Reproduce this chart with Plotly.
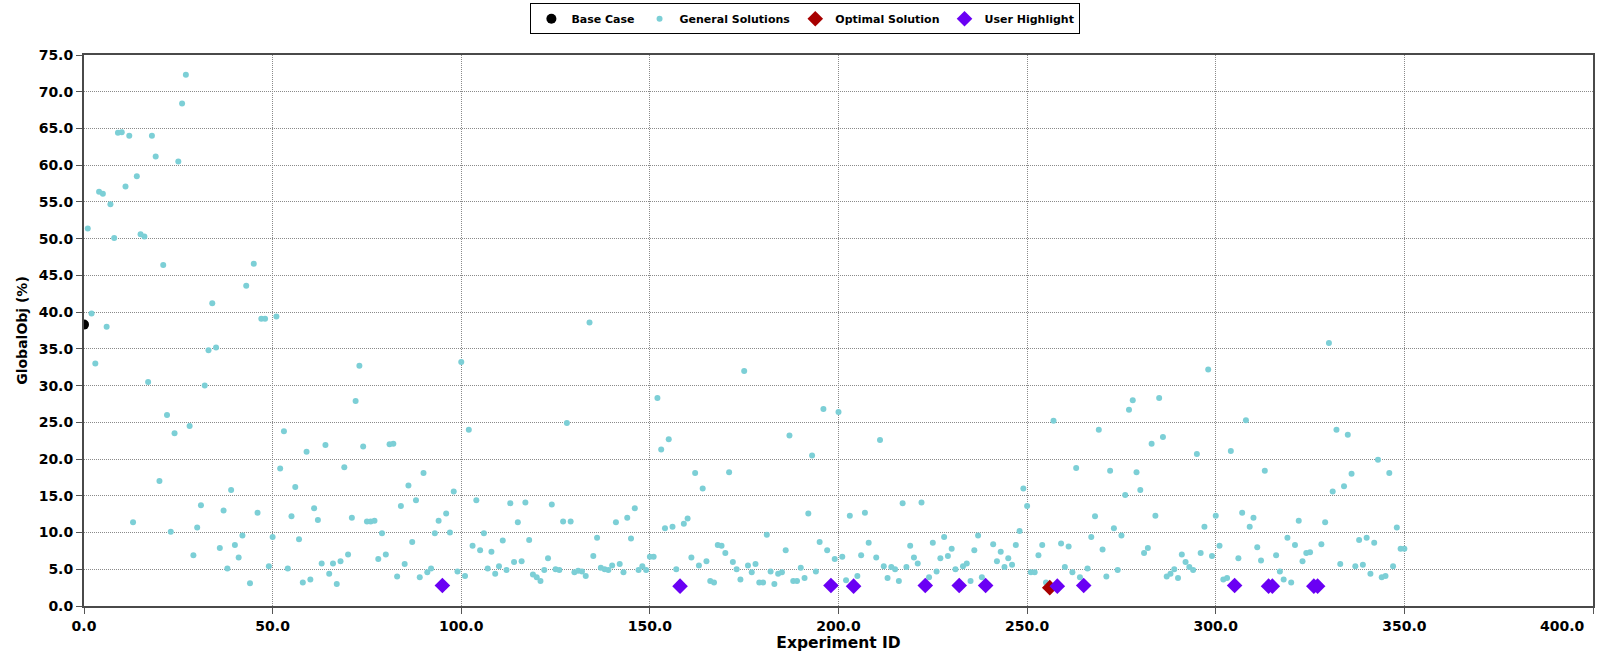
import plotly.graph_objects as go

# Baseline run
base_x = [0]
base_y = [38.3]

# General solutions: experiment id / objective value (%)
gen_x = [
    1, 2, 3, 4, 5, 6, 7, 8, 9, 10, 11, 12, 13, 14, 15, 16, 17, 18, 19, 20,
    21, 22, 23, 24, 25, 26, 27, 28, 29, 30, 31, 32, 33, 34, 35, 36, 37, 38, 39, 40,
    41, 42, 43, 44, 45, 46, 47, 48, 49, 50, 51,
    52, 53, 54, 55, 56, 57, 58, 59, 60, 61, 62, 63, 64, 65, 66, 67, 68, 69, 70,
    71, 72, 73, 74, 75, 76, 77, 78, 79, 80, 81, 82, 83, 84, 85, 86, 87, 88, 89, 90,
    91, 92, 93, 94, 96, 97, 98, 99, 100, 101, 102,
    103, 104, 105, 106, 107, 108, 109, 110, 111, 112, 113, 114, 115, 116, 117, 118, 119, 120,
    121, 122, 123, 124, 125, 126, 127, 128, 129, 130, 131, 132, 133, 134, 135, 136, 137, 138,
    139, 140, 141, 142, 143, 144, 145, 146, 147, 148, 149, 150, 151,
    152, 153, 154, 155, 156, 157, 159, 160, 161, 162, 163, 164, 165, 166, 167, 168, 169, 170,
    171, 172, 173, 174, 175, 176, 177, 178, 179, 180, 181, 182, 183, 184, 185, 186, 187, 188,
    189, 190, 191, 192, 193, 194, 195, 196, 197, 199, 200, 201,
    202, 203, 205, 206, 207, 208, 210, 211, 212, 213, 214, 215, 216, 217, 218, 219, 220, 221,
    222, 224, 225, 226, 227, 228, 229, 230, 231, 233, 234, 235, 236, 237, 238, 241, 242, 243,
    244, 245, 246, 247, 248, 249, 250, 251, 252,
    253, 254, 255, 257, 259, 260, 261, 262, 263, 264, 266, 267, 268, 269, 270, 271, 272, 273,
    274, 275, 276, 277, 278, 279, 280, 281, 282, 283, 284, 285, 286, 287, 288, 289, 290, 291,
    292, 293, 294, 295, 296, 297, 298, 299, 300,
    301, 302, 303, 304, 306, 307, 308, 309, 310, 311, 312, 313, 316, 317, 318, 319, 320, 321,
    322, 323, 324, 325, 328, 329, 330, 331, 332, 333, 334, 335, 336, 337, 338, 339, 340, 341,
    342, 343, 344, 345, 346, 347, 348, 349, 350,
]
gen_y = [
    51.4, 39.8, 33.0, 56.4, 56.1, 38.0, 54.7, 50.1, 64.4, 64.5, 57.1, 64.0, 11.4, 58.5, 50.6, 50.3, 30.5, 64.0, 61.2, 17.0,
    46.4, 26.0, 10.1, 23.5, 60.5, 68.4, 72.3, 24.5, 6.9, 10.7, 13.7, 30.0, 34.8, 41.2, 35.2, 7.9, 13.0, 5.1, 15.8, 8.3,
    6.6, 9.6, 43.6, 3.1, 46.6, 12.7, 39.1, 39.1, 5.4, 9.4, 39.4,
    18.7, 23.8, 5.1, 12.2, 16.2, 9.1, 3.2, 21.0, 3.6, 13.3, 11.7, 5.8, 21.9, 4.4, 5.8, 3.0, 6.1, 18.9, 7.0,
    12.0, 27.9, 32.7, 21.7, 11.5, 11.5, 11.6, 6.4, 9.9, 7.0, 22.0, 22.1, 4.0, 13.6, 5.7, 16.4, 8.7, 14.4, 3.9, 18.1,
    4.6, 5.1, 9.9, 11.6, 12.6, 10.0, 15.6, 4.7, 33.2, 4.1, 24.0,
    8.2, 14.4, 7.6, 9.9, 5.1, 7.4, 4.4, 5.4, 8.9, 4.9, 14.0, 6.0, 11.4, 6.1, 14.1, 9.0, 4.3, 3.9,
    3.4, 4.9, 6.5, 13.8, 5.0, 4.9, 11.5, 24.9, 11.5, 4.6, 4.8, 4.7, 4.1, 38.6, 6.8, 9.3, 5.2, 5.0,
    4.9, 5.5, 11.4, 5.7, 4.6, 12.0, 9.2, 13.3, 4.9, 5.4, 4.9, 6.7, 6.7,
    28.3, 21.3, 10.6, 22.7, 10.8, 5.0, 11.2, 11.9, 6.6, 18.1, 5.5, 16.0, 6.1, 3.4, 3.2, 8.3, 8.2, 7.2,
    18.2, 6.0, 5.0, 3.6, 32.0, 5.5, 4.6, 5.7, 3.2, 3.2, 9.7, 4.7, 3.0, 4.4, 4.6, 7.6, 23.2, 3.4,
    3.4, 5.2, 3.8, 12.6, 20.5, 4.7, 8.7, 26.8, 7.6, 6.4, 26.4, 6.7,
    3.5, 12.3, 4.1, 6.9, 12.7, 8.6, 6.6, 22.6, 5.4, 3.8, 5.3, 5.0, 3.4, 14.0, 5.3, 8.2, 6.6, 5.8,
    14.1, 3.9, 8.6, 4.7, 6.5, 9.4, 6.8, 7.8, 5.0, 5.4, 5.8, 3.4, 7.6, 9.6, 3.9, 8.4, 6.1, 7.4,
    5.3, 6.5, 5.6, 8.3, 10.2, 16.0, 13.6, 4.6, 4.6,
    6.9, 8.3, 3.2, 25.2, 8.5, 5.3, 8.1, 4.6, 18.8, 3.9, 5.1, 9.4, 12.2, 24.0, 7.7, 4.0, 18.4, 10.6,
    4.9, 9.6, 15.1, 26.7, 28.0, 18.2, 15.8, 7.2, 7.9, 22.1, 12.3, 28.3, 23.0, 4.0, 4.4, 5.0, 3.8, 7.0,
    6.0, 5.3, 4.9, 20.7, 7.2, 10.8, 32.2, 6.8, 12.3,
    8.2, 3.6, 3.8, 21.1, 6.5, 12.7, 25.3, 10.8, 12.0, 8.0, 6.2, 18.4, 6.9, 4.7, 3.6, 9.3, 3.2, 8.3,
    11.6, 6.1, 7.2, 7.3, 8.4, 11.4, 35.8, 15.6, 24.0, 5.7, 16.3, 23.3, 18.0, 5.4, 9.0, 5.6, 9.3, 4.4,
    8.6, 19.9, 3.9, 4.1, 18.1, 5.4, 10.7, 7.8, 7.8,
]

# Best run found
opt_x = [256]
opt_y = [2.5]

# Runs flagged by the user
hl_x = [95, 158, 198, 204, 223, 232, 239, 258, 265, 305, 314, 315, 326, 327]
hl_y = [2.8, 2.7, 2.8, 2.7, 2.8, 2.8, 2.8, 2.7, 2.8, 2.8, 2.7, 2.7, 2.7, 2.7]

x_ticks = [0, 50, 100, 150, 200, 250, 300, 350, 400]
y_ticks = [0, 5, 10, 15, 20, 25, 30, 35, 40, 45, 50, 55, 60, 65, 70, 75]

FONT = "DejaVu Sans"
TICK_FONT = dict(family=FONT, size=14, color="#000000", weight="bold")

fig = go.Figure()
fig.add_trace(go.Scatter(
    x=base_x, y=base_y, mode="markers", name="Base Case",
    marker=dict(symbol="circle", size=10, color="#000000"),
))
fig.add_trace(go.Scatter(
    x=gen_x, y=gen_y, mode="markers", name="General Solutions",
    marker=dict(symbol="circle", size=6, color="#7ccfd6"),
))
fig.add_trace(go.Scatter(
    x=opt_x, y=opt_y, mode="markers", name="Optimal Solution",
    marker=dict(symbol="diamond", size=12, color="#a80000"),
))
fig.add_trace(go.Scatter(
    x=hl_x, y=hl_y, mode="markers", name="User Highlight",
    marker=dict(symbol="diamond", size=12, color="#6a00f4"),
))

axis_common = dict(
    showline=True, linecolor="#4a4a4a", linewidth=2, mirror=True,
    showgrid=True, gridcolor="#8a8a8a", gridwidth=1, griddash="1px,1px",
    zeroline=False, ticks="outside", ticklen=6, tickcolor="#555555",
    tickfont=TICK_FONT,
)

fig.update_xaxes(
    range=[0, 400], tickvals=x_ticks, ticktext=[f"{v:.1f}" for v in x_ticks],
    title=dict(text="<b>Experiment ID</b>", font=dict(family=FONT, size=15.5, color="#000000"), standoff=4),
    **axis_common,
)
fig.update_yaxes(
    range=[0, 75], tickvals=y_ticks, ticktext=[f"{v:.1f}" for v in y_ticks],
    title=dict(text="<b>GlobalObj (%)</b>", font=dict(family=FONT, size=14, color="#000000"), standoff=8),
    **axis_common,
)

# the last x label sits at the right edge of the figure, so it is set flush right
fig.add_annotation(
    x=x_ticks[-1], y=0, xref="x", yref="y", text=f"{x_ticks[-1]:.1f}",
    showarrow=False, xanchor="right", yanchor="top", xshift=-6, yshift=-10,
    font=TICK_FONT,
)

fig.update_layout(
    width=1598, height=652,
    margin=dict(l=84, r=3, t=55, b=46),
    paper_bgcolor="#ffffff", plot_bgcolor="#ffffff",
    showlegend=True,
    legend=dict(
        orientation="h", xref="container", yref="container",
        x=0.504, y=0.995, xanchor="center", yanchor="top",
        bordercolor="#000000", borderwidth=1, bgcolor="#ffffff",
        font=dict(family=FONT, size=11, color="#000000", weight="bold"),
        itemwidth=30, tracegroupgap=0,
    ),
)

fig.write_html("out.html")
